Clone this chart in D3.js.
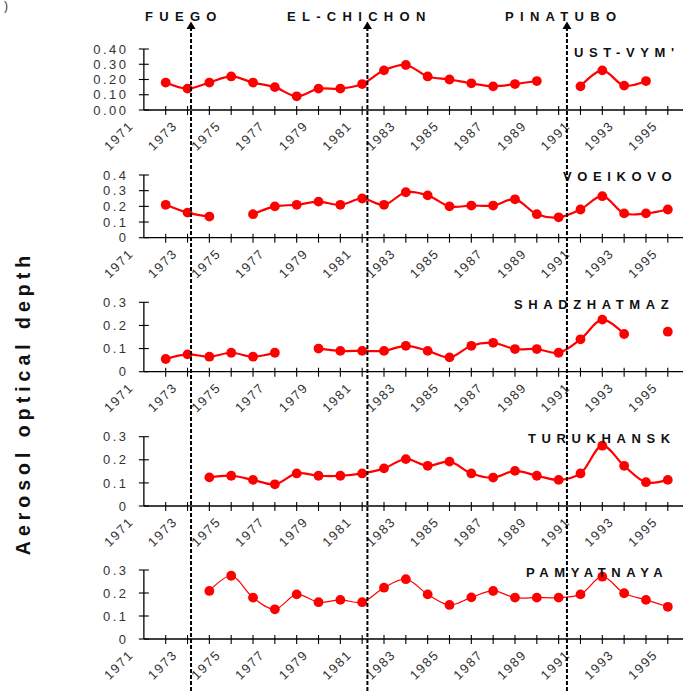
<!DOCTYPE html>
<html>
<head>
<meta charset="utf-8">
<script src="https://cdn.jsdelivr.net/npm/d3@7"></script>
<style>
  body { margin: 0; background: #fff; }
  svg { display: block; font-family: "Liberation Sans", Arial, sans-serif; }
</style>
</head>
<body>
<svg id="chart" width="683" height="691"></svg>
<script>
// categories
var years = [1973, 1974, 1975, 1976, 1977, 1978, 1979, 1980, 1981, 1982, 1983, 1984,
             1985, 1986, 1987, 1988, 1989, 1990, 1991, 1992, 1993, 1994, 1995, 1996];
var labelYears = [1971, 1973, 1975, 1977, 1979, 1981, 1983, 1985, 1987, 1989, 1991, 1993, 1995];

// aerosol optical depth per station (null = no data)
var ustVym = [0.18, 0.14, 0.18, 0.22, 0.18, 0.15, 0.09, 0.14, 0.14, 0.17, 0.26, 0.295,
              0.22, 0.20, 0.175, 0.155, 0.17, 0.19, null, 0.155, 0.26, 0.16, 0.19, null];
var voeikovo = [0.21, 0.16, 0.135, null, 0.15, 0.20, 0.21, 0.23, 0.21, 0.25, 0.21, 0.29,
                0.27, 0.20, 0.205, 0.205, 0.245, 0.15, 0.13, 0.18, 0.265, 0.155, 0.155, 0.18];
var shadzhatmaz = [0.055, 0.075, 0.065, 0.082, 0.065, 0.082, null, 0.10, 0.09, 0.09, 0.09, 0.112,
                   0.09, 0.062, 0.112, 0.125, 0.098, 0.098, 0.082, 0.14, 0.225, 0.163, null, 0.173];
var turukhansk = [null, null, 0.124, 0.131, 0.113, 0.094, 0.141, 0.131, 0.131, 0.141, 0.163, 0.203,
                  0.174, 0.192, 0.141, 0.123, 0.152, 0.131, 0.113, 0.141, 0.261, 0.174, 0.103, 0.113];
var pamyatnaya = [null, null, 0.209, 0.275, 0.18, 0.129, 0.194, 0.16, 0.17, 0.16, 0.223, 0.26,
                  0.194, 0.148, 0.181, 0.209, 0.18, 0.18, 0.18, 0.194, 0.271, 0.199, 0.17, 0.14];

var stations = ["UST-VYM'", "VOEIKOVO", "SHADZHATMAZ", "TURUKHANSK", "PAMYATNAYA"];
var series = [ustVym, voeikovo, shadzhatmaz, turukhansk, pamyatnaya];
var yMax = [0.4, 0.4, 0.3, 0.3, 0.3];
var yTicks = [[0, 0.1, 0.2, 0.3, 0.4], [0, 0.1, 0.2, 0.3, 0.4], [0, 0.1, 0.2, 0.3], [0, 0.1, 0.2, 0.3], [0, 0.1, 0.2, 0.3]];

// eruptions
var volcanoes = ["FUEGO", "EL-CHICHON", "PINATUBO"];
var eruptions = [1974.16, 1982.24, 1991.38];

// layout
var panelBase = [110, 237.7, 371.7, 506, 639];
var panelTop = [49, 175, 302.3, 436.7, 570];
var stationLabelX = [574, 563, 514, 528, 526];
var stationLabelY = [57, 181, 309, 443, 577];
var volcanoLabelX = [145, 287, 505];
var lineWidths = [2.2, 2.2, 2.2, 2.2, 1.2];

var svg = d3.select("#chart");
var red = "#ff0000";
var textCol = "#333";

var x = d3.scaleLinear().domain([1973, 1996]).range([165.7, 667.8]);
var axisX = x(1972);

for (var p = 0; p < 5; p++) {
    var y = d3.scaleLinear().domain([0, yMax[p]]).range([panelBase[p], panelTop[p]]);
    var g = svg.append("g");
    var fmt = p == 0 ? d3.format(".2f") : function (v) { return v == 0 ? "0" : d3.format(".1f")(v); };

    // x axis line and crossing ticks
    g.append("line")
        .attr("x1", axisX).attr("x2", x(1996.7))
        .attr("y1", y(0)).attr("y2", y(0))
        .attr("stroke", "#000").attr("stroke-width", 1.3);
    g.selectAll(".xt").data(years).enter().append("line")
        .attr("x1", function (d) { return x(d); }).attr("x2", function (d) { return x(d); })
        .attr("y1", y(0) - 4).attr("y2", y(0) + 5)
        .attr("stroke", "#000").attr("stroke-width", 1.1);

    // y axis
    g.append("line")
        .attr("x1", axisX).attr("x2", axisX)
        .attr("y1", y(0)).attr("y2", y(yMax[p]))
        .attr("stroke", "#000").attr("stroke-width", 1.3);
    g.selectAll(".yt").data(yTicks[p]).enter().append("line")
        .attr("x1", axisX - 5).attr("x2", axisX + 5)
        .attr("y1", function (d) { return y(d); }).attr("y2", function (d) { return y(d); })
        .attr("stroke", "#000").attr("stroke-width", 1.1);
    g.selectAll(".yl").data(yTicks[p]).enter().append("text")
        .attr("x", 128.5)
        .attr("y", function (d) { return y(d); })
        .attr("dy", "0.36em")
        .attr("text-anchor", "end")
        .attr("font-size", 13)
        .attr("letter-spacing", 2.5)
        .attr("fill", textCol)
        .text(fmt);

    // rotated year labels
    g.selectAll(".xl").data(labelYears).enter().append("text")
        .attr("transform", function (d) { return "translate(" + (x(d) + 6) + "," + (y(0) + 10) + ") rotate(-45)"; })
        .attr("text-anchor", "end")
        .attr("dy", "0.7em")
        .attr("font-size", 13)
        .attr("letter-spacing", 1.6)
        .attr("fill", textCol)
        .text(function (d) { return d; });

    // series
    var pts = years.map(function (yr, i) { return { year: yr, v: series[p][i] }; });
    var line = d3.line()
        .defined(function (d) { return d.v != null; })
        .x(function (d) { return x(d.year); })
        .y(function (d) { return y(d.v); })
        .curve(d3.curveCatmullRom.alpha(0.5));
    g.append("path")
        .attr("d", line(pts))
        .attr("fill", "none")
        .attr("stroke", red)
        .attr("stroke-width", lineWidths[p]);
    g.selectAll(".pt").data(pts.filter(function (d) { return d.v != null; })).enter().append("circle")
        .attr("cx", function (d) { return x(d.year); })
        .attr("cy", function (d) { return y(d.v); })
        .attr("r", 4.9)
        .attr("fill", red);

    // station name
    g.append("text")
        .attr("x", stationLabelX[p]).attr("y", stationLabelY[p])
        .attr("font-size", 13).attr("font-weight", "bold")
        .attr("letter-spacing", 5.6)
        .attr("fill", "#111")
        .text(stations[p]);
}

// eruption markers
for (var v = 0; v < volcanoes.length; v++) {
    var vx = x(eruptions[v]);
    svg.append("line")
        .attr("x1", vx).attr("x2", vx)
        .attr("y1", 27).attr("y2", 691)
        .attr("stroke", "#000").attr("stroke-width", 2)
        .attr("stroke-dasharray", "4,2");
    svg.append("path")
        .attr("d", "M" + vx + ",21.5 L" + (vx - 4.5) + ",29 L" + (vx + 4.5) + ",29 Z")
        .attr("fill", "#000");
    svg.append("text")
        .attr("x", volcanoLabelX[v]).attr("y", 20.5)
        .attr("font-size", 13).attr("font-weight", "bold")
        .attr("letter-spacing", 6.3)
        .attr("fill", "#111")
        .text(volcanoes[v]);
}

// y title
svg.append("text")
    .attr("transform", "translate(30,403) rotate(-90)")
    .attr("text-anchor", "middle")
    .attr("font-size", 19.5).attr("font-weight", "bold")
    .attr("letter-spacing", 5)
    .attr("fill", "#111")
    .text("Aerosol optical depth");

// stray caption fragment at top-left
svg.append("text")
    .attr("x", 4).attr("y", 10)
    .attr("font-size", 12)
    .attr("fill", "#333")
    .text(")");
</script>
</body>
</html>
